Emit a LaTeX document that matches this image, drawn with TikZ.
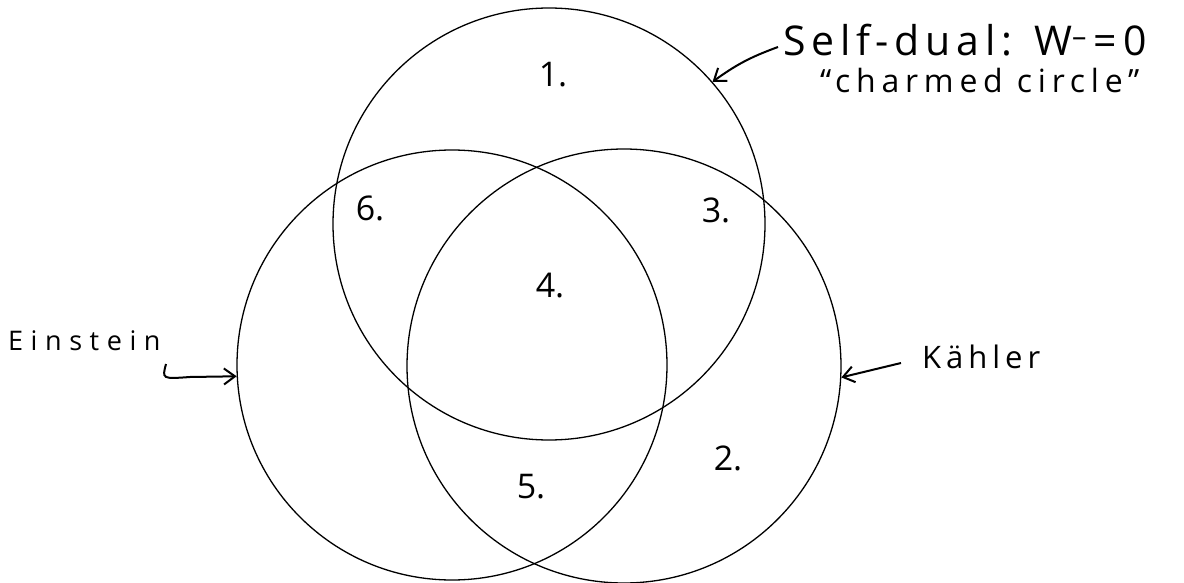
\documentclass[tikz,border=0pt]{standalone}
\usepackage{fontspec}
\setmainfont{Open Sans}
\usetikzlibrary{arrows.meta}
\begin{document}
\begin{tikzpicture}[x=1pt,y=-1pt,
  ring/.style={draw, circle, inner sep=0pt, line width=1.3pt},
  arr/.style={line width=2pt, -{Straight Barb[length=11pt,width=16pt,line width=2pt]}},
  num/.style={font=\fontsize{34}{40}\selectfont},
  lab/.style={anchor=base west, inner sep=0pt}]
\useasboundingbox (0,0) rectangle (1184,583);
\node[ring, minimum size=432pt] (sd) at (549,224) {};
\node[ring, minimum size=430pt] (ein) at (452,365) {};
\node[ring, minimum size=434pt] (kah) at (624,366) {};
% region numbers
\node[num] (n1) at (553,75) {1.};
\node[num] (n6) at (370,208) {6.};
\node[num] (n3) at (716,210) {3.};
\node[num] (n4) at (550,286) {4.};
\node[num] (n2) at (728,458) {2.};
\node[num] (n5) at (531,487) {5.};
% labels
\node[lab, font=\fontsize{41}{46}\selectfont\addfontfeature{LetterSpace=14}] (sdl) at (783,56) {Self-dual: W\textsuperscript{--}\,=\,0};
\node[lab, font=\fontsize{32}{36}\selectfont\addfontfeature{LetterSpace=18}] (cc) at (820,93) {``charmed circle''};
\node[lab, font=\fontsize{27}{30}\selectfont\addfontfeature{LetterSpace=28}] (el) at (8,350) {Einstein};
\node[lab, font=\fontsize{31}{34}\selectfont\addfontfeature{LetterSpace=16}] (kl) at (922,368) {Kähler};
% arrows
\coordinate (sdt) at (778,47);
\draw[arr] (sdt) to[bend right=8] (sd.41);
\coordinate (et) at (166,364);
\draw[arr] (et) .. controls (162,379) .. (190,377) -- (ein.183);
\coordinate (kt) at (901,363);
\draw[arr] (kt) -- (kah.-3);
\end{tikzpicture}
\end{document}
